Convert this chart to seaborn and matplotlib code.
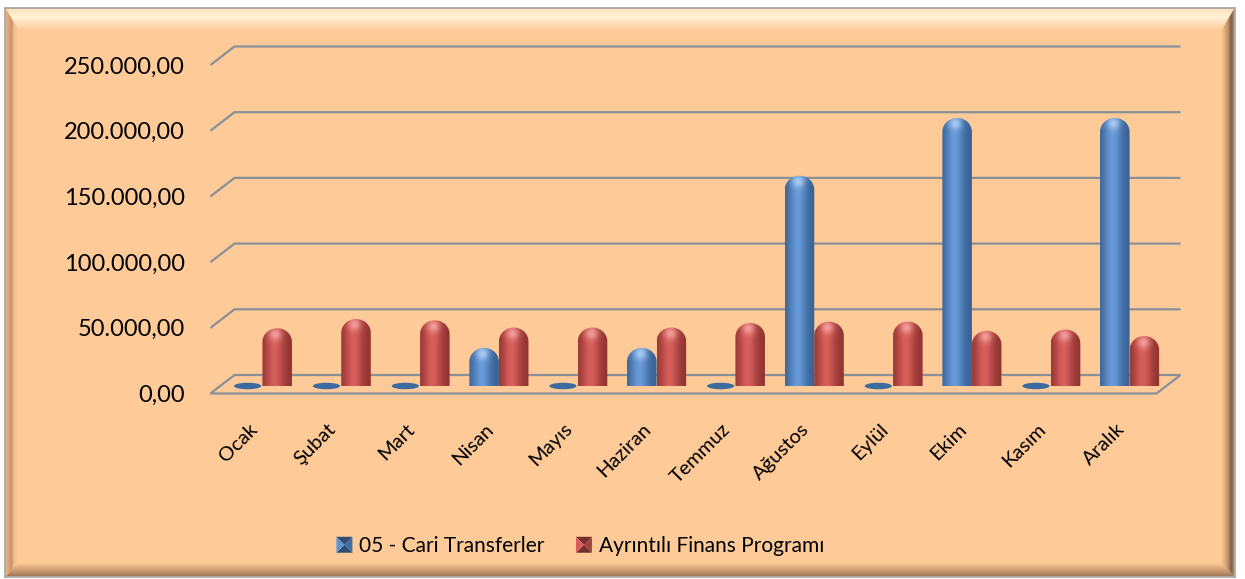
import numpy as np
import pandas as pd
import matplotlib
matplotlib.use("Agg")
import matplotlib.pyplot as plt
import matplotlib.colors as mcolors
import seaborn as sns
from matplotlib.patches import Polygon, Ellipse, Rectangle
from matplotlib.legend_handler import HandlerBase
from matplotlib.transforms import ScaledTranslation
from matplotlib.ticker import FuncFormatter

# ---- data -------------------------------------------------------------
aylar = ["Ocak", "Şubat", "Mart", "Nisan", "Mayıs", "Haziran",
         "Temmuz", "Ağustos", "Eylül", "Ekim", "Kasım", "Aralık"]
cari_transferler = [0, 0, 0, 29000, 0, 29000, 0, 160000, 0, 204000, 0, 204000]
finans_programi = [44000, 51000, 50000, 44500, 44500, 44500,
                   48000, 49000, 49000, 42000, 43000, 38000]
seriler = ["05 - Cari Transferler", "Ayrıntılı Finans Programı"]
y_ticks = [0, 50000, 100000, 150000, 200000, 250000]

# ---- style ------------------------------------------------------------
MAVI = "#4f81bd"
KIRMIZI = "#c0504d"
ZEMIN = "#FDCA98"
IZGARA = "#8A9097"
TONLAR = {
    MAVI: ("#2B5282", "#679AD8", "#B4D2F5"),
    KIRMIZI: ("#7E2826", "#D85E5B", "#F6A9A6"),
}

sns.set_theme(style="white")
plt.rcParams["font.family"] = ["Lato", "DejaVu Sans"]

W, H = 1245, 579
fig = plt.figure(figsize=(W / 100, H / 100), dpi=100)
fig.patch.set_facecolor("white")

# background layer in pixel coordinates (frame, walls, floor)
bg = fig.add_axes([0, 0, 1, 1], zorder=0)
bg.set_xlim(0, W)
bg.set_ylim(H, 0)
bg.axis("off")


def gradient_poly(verts, stops, vertical=True):
    verts = np.asarray(verts, float)
    x0, y0 = verts.min(axis=0)
    x1, y1 = verts.max(axis=0)
    t = np.linspace(0, 1, 128)
    pos = [s[0] for s in stops]
    cols = np.array([mcolors.to_rgb(s[1]) for s in stops])
    rgb = np.stack([np.interp(t, pos, cols[:, k]) for k in range(3)], axis=-1)
    img = rgb[:, None, :] if vertical else rgb[None, :, :]
    poly = Polygon(verts, closed=True, facecolor="none", edgecolor="none")
    bg.add_patch(poly)
    im = bg.imshow(img, extent=(x0, x1, y1, y0), origin="upper",
                   aspect="auto", interpolation="bilinear", zorder=1)
    im.set_clip_path(poly)


# chart area with bevelled frame
bg.add_patch(Rectangle((5, 8), 1230, 569, facecolor=ZEMIN,
                       edgecolor="#A3A3A3", lw=1.2, zorder=0.5))
gradient_poly([(6, 9), (1234, 9), (1221, 31), (19, 31)],
              [(0, "#FCE3BD"), (0.35, "#FFF2D6"), (1, ZEMIN)])
gradient_poly([(6, 9), (19, 31), (19, 563), (6, 576)],
              [(0, "#E9B583"), (0.45, "#C99368"), (0.6, "#F2BD8A"), (1, ZEMIN)],
              vertical=False)
gradient_poly([(1234, 9), (1221, 31), (1221, 563), (1234, 576)],
              [(0, ZEMIN), (0.5, "#C79B70"), (0.8, "#7F5D41"), (1, "#B08B68")],
              vertical=False)
gradient_poly([(19, 563), (1221, 563), (1234, 576), (6, 576)],
              [(0, ZEMIN), (0.6, "#C89A70"), (1, "#A27A57")])

# ---- plot axes --------------------------------------------------------
L, R, B, T = 223, 1169, 386, 57.5
ax = fig.add_axes([L / W, 1 - B / H, (R - L) / W, (B - T) / H], zorder=1)
ax.patch.set_visible(False)

df = pd.DataFrame({
    "Ay": aylar * 2,
    "Tutar": cari_transferler + finans_programi,
    "Seri": [seriler[0]] * len(aylar) + [seriler[1]] * len(aylar),
})
sns.barplot(data=df, x="Ay", y="Tutar", hue="Seri", order=aylar,
            hue_order=seriler, palette=[MAVI, KIRMIZI], saturation=1,
            width=0.75, errorbar=None, legend=False, ax=ax)
ax.set_xlim(-0.5, 11.5)
ax.set_ylim(0, 250000)
ax.set_xlabel("")
ax.set_ylabel("")
for sp in ax.spines.values():
    sp.set_visible(False)


def to_px(x, y):
    dx, dy = ax.transData.transform((x, y))
    return np.array([dx, H - dy])


FRONT = np.array([-12.5, 7.5])
BACK = np.array([11.5, -11.0])

# back wall gridlines with the slanted side segment
for v in y_ticks:
    left, right = to_px(-0.5, v), to_px(11.5, v)
    if v == 0:
        floor = [left + FRONT, right + FRONT, right + BACK, left + BACK]
        bg.add_patch(Polygon(floor, closed=True, facecolor="none",
                             edgecolor=IZGARA, lw=1.6, zorder=2))
    else:
        pts = np.array([left + FRONT, left + BACK, right + BACK])
        bg.plot(pts[:, 0], pts[:, 1], color=IZGARA, lw=1.6, zorder=2,
                solid_capstyle="butt")

# ---- cylinder bars ----------------------------------------------------
sx = ax.transData.transform((1, 0))[0] - ax.transData.transform((0, 0))[0]
sy = (ax.transData.transform((0, 1e5))[1] - ax.transData.transform((0, 0))[1]) / 1e5

for bar in list(ax.patches):
    x0, w, h = bar.get_x(), bar.get_width(), bar.get_height()
    renk = mcolors.to_hex(bar.get_facecolor()).lower()
    bar.set_visible(False)
    xc = x0 + w / 2
    w_px = w * sx
    if h <= 0:
        ax.add_patch(Ellipse((xc, 0), w * 0.92, 6.5 / sy, facecolor="#3C6B9F",
                             edgecolor="none", zorder=3, clip_on=False))
        continue
    koyu, acik, parlak = (np.array(mcolors.to_rgb(c))
                          for c in TONLAR.get(renk, TONLAR[MAVI]))
    h_px = h * sy
    rv_px = min(0.47 * w_px, h_px)
    bd_px = 2.5
    rv, bd = rv_px / sy, bd_px / sy

    t = np.linspace(np.pi, 0, 48)
    top = np.column_stack([xc + w / 2 * np.cos(t), (h - rv) + rv * np.sin(t)])
    b = np.linspace(0, np.pi, 32)
    bottom = np.column_stack([xc + w / 2 * np.cos(b), -bd * np.sin(b)])
    shape = Polygon(np.vstack([top, bottom]), closed=True, facecolor="none",
                    edgecolor="none", zorder=3, clip_on=False)
    ax.add_patch(shape)

    nx, ny = 64, max(int((h_px + bd_px) * 2), 8)
    u = np.linspace(0, 1, nx)
    yy = np.linspace(-bd_px, h_px, ny)
    g = 0.22 + 0.78 * np.exp(-((u - 0.42) / 0.3) ** 2)
    body = koyu[None, :] + (acik - koyu)[None, :] * g[:, None]
    img = np.repeat(body[None, :, :], ny, axis=0)
    d = np.sqrt(((u[None, :] - 0.45) * w_px) ** 2
                + (yy[:, None] - (h_px - 0.45 * rv_px)) ** 2)
    spot = 0.85 * np.exp(-(d / (0.2 * w_px)) ** 2)
    img = img * (1 - spot[..., None]) + parlak[None, None, :] * spot[..., None]
    im = ax.imshow(np.clip(img, 0, 1), extent=(x0, x0 + w, -bd, h),
                   origin="lower", aspect="auto", interpolation="bilinear",
                   zorder=3)
    im.set_clip_path(shape)

ax.set_xlim(-0.5, 11.5)
ax.set_ylim(0, 250000)

# ---- tick labels ------------------------------------------------------
ax.set_yticks(y_ticks)
ax.yaxis.set_major_formatter(FuncFormatter(
    lambda v, _: f"{v:,.2f}".replace(",", "_").replace(".", ",").replace("_", ".")))
ax.tick_params(axis="y", length=0, pad=27.4, labelsize=17, labelcolor="black")
ax.tick_params(axis="x", length=0, pad=29, labelsize=14.5, labelcolor="black",
               labelrotation=45)
for lab in ax.get_yticklabels():
    lab.set_transform(lab.get_transform()
                      + ScaledTranslation(0, -0.075, fig.dpi_scale_trans))
for lab in ax.get_xticklabels():
    lab.set_ha("right")
    lab.set_va("center")
    lab.set_rotation_mode("anchor")
    lab.set_transform(lab.get_transform()
                      + ScaledTranslation(-0.08, 0, fig.dpi_scale_trans))


# ---- legend -----------------------------------------------------------
class PyramidHandler(HandlerBase):
    def create_artists(self, legend, orig_handle, xdescent, ydescent,
                       width, height, fontsize, trans):
        c = np.array(mcolors.to_rgb(orig_handle.get_facecolor()))
        s = min(width, height)
        x0 = -xdescent + (width - s) / 2
        y0 = -ydescent + (height - s) / 2
        cx, cy = x0 + s / 2, y0 + s / 2
        corners = [(x0, y0), (x0 + s, y0), (x0 + s, y0 + s), (x0, y0 + s)]
        shades = [0.6, 0.85, 0.6, 1.15]
        arts = []
        for i in range(4):
            arts.append(Polygon([corners[i], corners[(i + 1) % 4], (cx, cy)],
                                closed=True, edgecolor="none",
                                facecolor=np.clip(c * shades[i], 0, 1),
                                transform=trans))
        return arts


handles = [Rectangle((0, 0), 1, 1, facecolor=c) for c in (MAVI, KIRMIZI)]
ax.legend(handles, seriler, handler_map={Rectangle: PyramidHandler()},
          loc="center", bbox_to_anchor=(580 / W, 1 - 546 / H),
          bbox_transform=fig.transFigure, ncol=2, frameon=False, fontsize=15,
          handlelength=0.8, handleheight=0.8, handletextpad=0.3,
          columnspacing=1.5, labelcolor="black")

fig.savefig("out.png", dpi=100)
